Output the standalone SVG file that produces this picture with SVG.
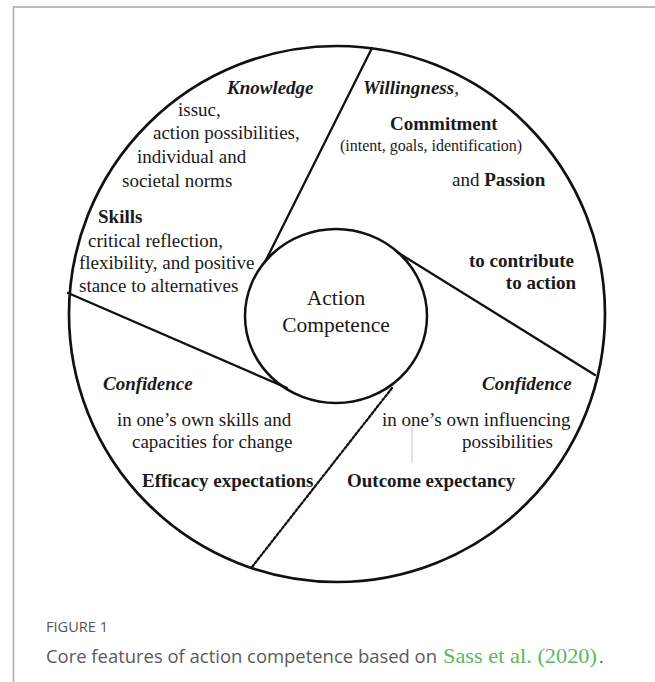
<svg xmlns="http://www.w3.org/2000/svg" width="655" height="682" viewBox="0 0 655 682">
<style>
.t{font-family:"Liberation Serif","Times New Roman",serif;font-size:19px;fill:#1a1a1a}
.b{font-weight:bold}
.bi{font-weight:bold;font-style:italic}
.ln{fill:none;stroke:#111;stroke-width:2.3;stroke-linecap:round}
.cap{font-family:"Open Sans","Liberation Sans",sans-serif;fill:#5a5a5a}
</style>
<rect width="655" height="682" fill="#fff"/>
<g id="frame">
<path d="M13.5 682 V7 H655" fill="none" stroke="#a9a9a9" stroke-width="1.4"/>
</g>
<g id="connectors">
<line class="ln" x1="372" y1="48" x2="265" y2="262"/>
<line class="ln" x1="397" y1="252" x2="595" y2="375"/>
<line class="ln" x1="68" y1="293" x2="287" y2="388"/>
<line class="ln" x1="392" y1="388" x2="252" y2="567" stroke-dasharray="2.2 2.2" stroke-linecap="butt" stroke-width="2.6"/>
<line x1="412" y1="425" x2="412" y2="462" stroke="#c4c4c4" stroke-width="1"/>
</g>
<g id="outer">
<circle cx="337" cy="314" r="268" fill="none" stroke="#111" stroke-width="2.7"/>
</g>
<g id="center">
<ellipse cx="336" cy="316" rx="91" ry="87" fill="none" stroke="#111" stroke-width="2.5"/>
<text class="t" x="336" y="305" text-anchor="middle" style="font-size:21.5px">Action</text>
<text class="t" x="336" y="332" text-anchor="middle" style="font-size:21.5px">Competence</text>
</g>
<g id="knowledge-skills">
<text class="t bi" x="227" y="94">Knowledge</text>
<text class="t" x="178" y="116">issuc,</text>
<text class="t" x="153" y="139">action possibilities,</text>
<text class="t" x="137" y="163">individual and</text>
<text class="t" x="122" y="187">societal norms</text>
<text class="t b" x="98" y="223">Skills</text>
<text class="t" x="88" y="247">critical reflection,</text>
<text class="t" x="79" y="269">flexibility, and positive</text>
<text class="t" x="79" y="292">stance to alternatives</text>
</g>
<g id="willingness">
<text class="t bi" x="363" y="94">Willingness<tspan font-style="normal" font-weight="normal">,</tspan></text>
<text class="t b" x="390" y="130">Commitment</text>
<text class="t" x="340" y="151" style="font-size:16px">(intent, goals, identification)</text>
<text class="t" x="452" y="186">and <tspan font-weight="bold">Passion</tspan></text>
<text class="t b" x="574" y="267" text-anchor="end">to contribute</text>
<text class="t b" x="576" y="289" text-anchor="end">to action</text>
</g>
<g id="efficacy">
<text class="t bi" x="103" y="390">Confidence</text>
<text class="t" x="117" y="426">in one’s own skills and</text>
<text class="t" x="132" y="448">capacities for change</text>
<text class="t b" x="142" y="487">Efficacy expectations</text>
</g>
<g id="outcome">
<text class="t bi" x="482" y="390">Confidence</text>
<text class="t" x="382" y="426">in one’s own influencing</text>
<text class="t" x="462" y="448">possibilities</text>
<text class="t b" x="347" y="487">Outcome expectancy</text>
</g>
<g id="caption">
<text class="cap" x="46" y="632" style="font-size:14px;fill:#555" textLength="62" lengthAdjust="spacingAndGlyphs">FIGURE 1</text>
<text class="cap" x="46" y="663" style="font-size:17.5px" textLength="391" lengthAdjust="spacingAndGlyphs">Core features of action competence based on</text>
<text x="443" y="663" font-family="Liberation Serif, Times New Roman, serif" font-size="22" fill="#5bb85d" textLength="154" lengthAdjust="spacingAndGlyphs">Sass et al. (2020)</text>
<text class="cap" x="599" y="663" style="font-size:17.5px">.</text>
</g>
</svg>
